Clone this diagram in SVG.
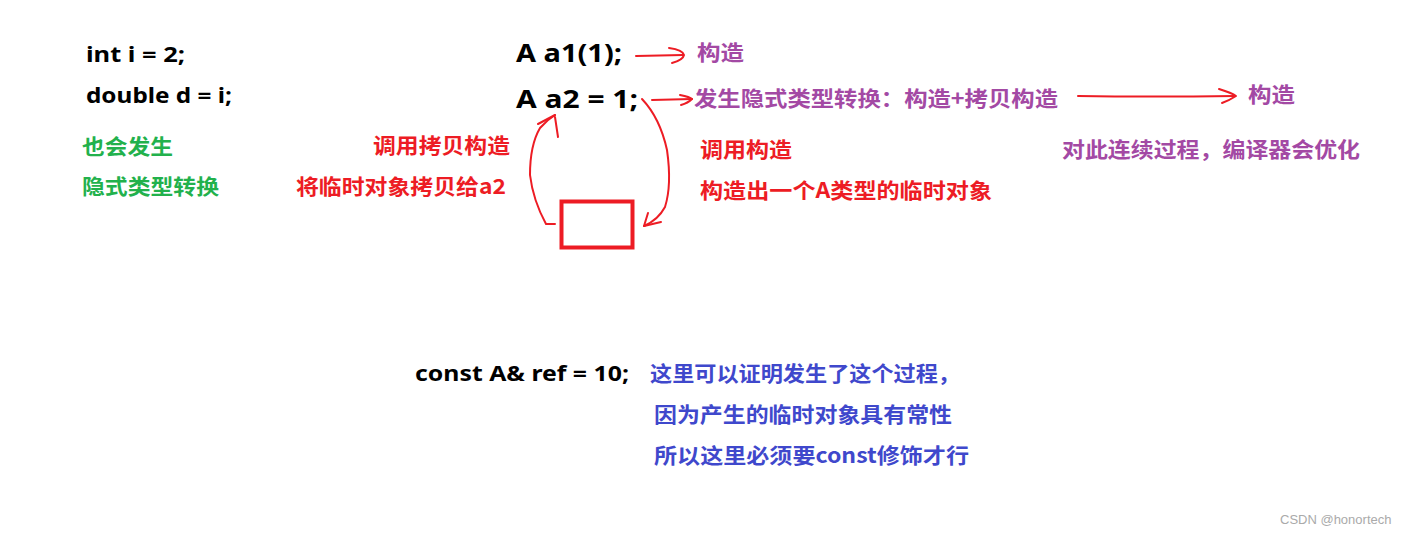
<svg xmlns="http://www.w3.org/2000/svg" width="1414" height="535" viewBox="0 0 1414 535">
<style>
.code{font-family:"Noto Sans","Liberation Sans",sans-serif;font-weight:bold;fill:#000}
.cjk{font-family:"Noto Sans CJK SC","Noto Sans",sans-serif;font-weight:bold;font-size:21px}
.g{fill:#22b14c}.r{fill:#ed1c24}.p{fill:#a349a4}.b{fill:#3f48cc}
.ln{fill:none;stroke:#ed1c24;stroke-width:2;stroke-linecap:round;stroke-linejoin:round}
</style>
<rect width="1414" height="535" fill="#fff"/>
<g id="int-decl"><text class="code" x="86" y="62" font-size="21" textLength="99" lengthAdjust="spacingAndGlyphs">int i = 2;</text></g>
<g id="double-decl"><text class="code" x="86" y="103" font-size="21" textLength="146" lengthAdjust="spacingAndGlyphs">double d = i;</text></g>
<g id="green-note"><text class="cjk g" x="82" y="154" textLength="91" lengthAdjust="spacingAndGlyphs">也会发生</text><text class="cjk g" x="82" y="194" textLength="137" lengthAdjust="spacingAndGlyphs">隐式类型转换</text></g>
<g id="a1"><text class="code" x="516" y="62" font-size="25" textLength="106" lengthAdjust="spacingAndGlyphs">A a1(1);</text></g>
<g id="a1-result"><text class="cjk p" x="697" y="60" textLength="47" lengthAdjust="spacingAndGlyphs">构造</text></g>
<g id="a2"><text class="code" x="516" y="108" font-size="25" textLength="122" lengthAdjust="spacingAndGlyphs">A a2 = 1;</text></g>
<g id="a2-explain"><text class="cjk p" x="694" y="106" textLength="364" lengthAdjust="spacingAndGlyphs">发生隐式类型转换：构造+拷贝构造</text></g>
<g id="optimized"><text class="cjk p" x="1248" y="102" textLength="47" lengthAdjust="spacingAndGlyphs">构造</text></g>
<g id="optimize-note"><text class="cjk p" x="1062" y="157" textLength="298" lengthAdjust="spacingAndGlyphs">对此连续过程，编译器会优化</text></g>
<g id="construct-note"><text class="cjk r" x="700" y="157" textLength="92" lengthAdjust="spacingAndGlyphs">调用构造</text><text class="cjk r" x="700" y="198" textLength="292" lengthAdjust="spacingAndGlyphs">构造出一个A类型的临时对象</text></g>
<g id="copy-note"><text class="cjk r" x="373" y="153" textLength="137" lengthAdjust="spacingAndGlyphs">调用拷贝构造</text><text class="cjk r" x="296" y="194" textLength="210" lengthAdjust="spacingAndGlyphs">将临时对象拷贝给a2</text></g>
<g id="temp-object"><rect x="561.5" y="201.5" width="71" height="46" fill="none" stroke="#ed1c24" stroke-width="4"/></g>
<g id="ref-decl"><text class="code" x="415" y="381" font-size="21" textLength="214" lengthAdjust="spacingAndGlyphs">const A&amp; ref = 10;</text></g>
<g id="ref-note"><text class="cjk b" x="650" y="381" textLength="310" lengthAdjust="spacingAndGlyphs">这里可以证明发生了这个过程，</text><text class="cjk b" x="654" y="422" textLength="298" lengthAdjust="spacingAndGlyphs">因为产生的临时对象具有常性</text><text class="cjk b" x="654" y="463" textLength="315" lengthAdjust="spacingAndGlyphs">所以这里必须要const修饰才行</text></g>
<g id="watermark"><text x="1280" y="524" font-family="Liberation Sans,Arial,sans-serif" font-size="13" fill="#aaa">CSDN @honortech</text></g>
<g id="connectors">
<path class="ln" d="M636,56 L683,55"/>
<path class="ln" d="M669,48 Q683,50 684,55 Q683,60 672,63"/>
<path class="ln" d="M652,100 L692,99"/>
<path class="ln" d="M680,95 Q690,97 692,99 Q688,103 681,105"/>
<path class="ln" d="M1078,96 Q1150,97 1235,96"/>
<path class="ln" d="M1219,89 Q1232,93 1236,96 Q1230,100 1222,103"/>
<path class="ln" d="M555,224 L546,224 Q533,200 530,175 Q530,145 540,128 Q547,120 555,115"/>
<path class="ln" d="M555,115 L538,124 M555,117 L558,137"/>
<path class="ln" d="M642,99 Q660,118 667,150 Q672,185 665,207 Q658,220 644,226"/>
<path class="ln" d="M644,226 L648,213 M644,226 L661,222"/>
</g>
</svg>
